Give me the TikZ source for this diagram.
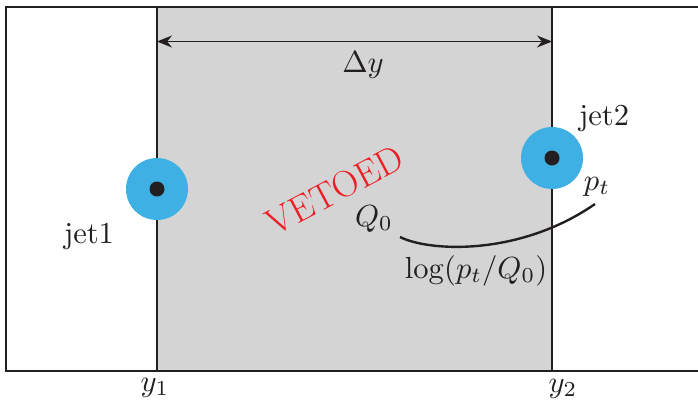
\documentclass[tikz,border=0pt]{standalone}
\usetikzlibrary{arrows.meta, positioning, calc}
\definecolor{jetblue}{HTML}{3FB0E4}
\definecolor{vetored}{HTML}{EE1D23}
\definecolor{ink}{HTML}{231F20}
\definecolor{vetogray}{HTML}{D4D4D4}

\begin{document}
\begin{tikzpicture}[x=1pt, y=-1pt,
    jet/.style={circle, fill=jetblue, minimum size=62pt, inner sep=0pt},
    core/.style={circle, fill=ink, minimum size=15pt, inner sep=0pt},
    lab/.style={text=ink, inner sep=0pt, anchor=base, scale=3.05},
    border/.style={draw=ink, line width=1.6pt},
    dim/.style={<->, >={Stealth[length=15pt, width=12pt]}, draw=ink, line width=1.8pt},
    curve/.style={draw=ink, line width=2.4pt},
    every node/.style={font=\fontsize{10}{12}\selectfont},
]
\useasboundingbox (0,0) rectangle (698,402);

% vetoed rapidity strip
\fill[vetogray] (157,7) rectangle (552,371);
\draw[border] (698,7) -- (6,7) -- (6,371) -- (698,371);
\draw[border] (157,7) -- (157,371);
\draw[border] (552,7) -- (552,371);

% gap width
\coordinate (gl) at (157,41.5);
\coordinate (gr) at (552,41.5);
\draw[dim] (gl) -- (gr);
\node[lab] (dy) at (363,72) {$\Delta y$};

% jets
\node[jet] (jet1) at (157,189) {};
\node[core] (c1) at (jet1) {};
\node[jet] (jet2) at (552,158) {};
\node[core] (c2) at (jet2) {};
\node[lab] (l1) at (89,243) {jet1};
\node[lab] (l2) at (604,125) {jet2};

% boundaries
\node[lab] (y1) at (155,391) {$y_1$};
\node[lab] (y2) at (563,392) {$y_2$};

% veto
\node[text=vetored, inner sep=0pt, rotate=28, font=\fontsize{37}{40}\selectfont] (veto) at (335,190) {VETOED};

% soft evolution
\node[lab] (q0) at (374,226) {$Q_0$};
\node[lab] (pt) at (597,190) {$p_t$};
\node[lab] (lg) at (476,278) {$\log(p_t/Q_0)$};
\coordinate (cs) at (400,237);
\coordinate (ce) at (595,204);
\draw[curve] (cs) .. controls (430,252) and (520,256) .. (ce);

\end{tikzpicture}
\end{document}
